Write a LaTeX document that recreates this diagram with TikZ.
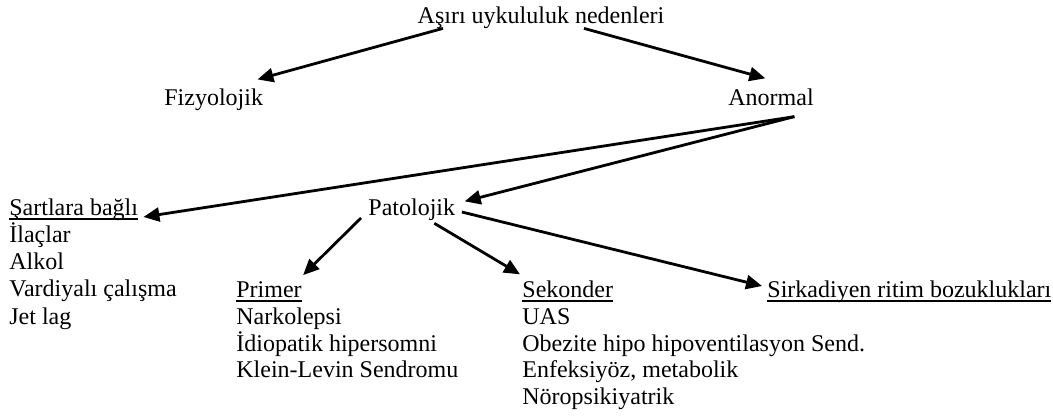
\documentclass[tikz,border=0pt]{standalone}
\usepackage{fontspec}
\setmainfont{Liberation Serif}
\usetikzlibrary{arrows.meta}
\newcommand{\ulin}[1]{\setbox0\hbox{#1}\rlap{\rule[-2pt]{\wd0}{0.8pt}}#1}

\begin{document}
\begin{tikzpicture}[x=0.5pt,y=-0.5pt]

		\tikzset{txt/.style = {inner sep=0pt,anchor=base west,font=\fontsize{12pt}{13pt}\selectfont}}
		\tikzset{edge/.style = {-{Triangle[length=8pt,width=7pt]},line width=1.4pt}}
		\useasboundingbox (0,0) rectangle (1053,416);
		% top levels
		\node[txt,anchor=base] (top) at (541,24) {Aşırı uykululuk nedenleri};
		\node[txt] (fiz) at (164,106) {Fizyolojik};
		\node[txt] (anor) at (728,106) {Anormal};
		\node[txt] (sart) at (9,216) {\ulin{Şartlara bağlı}};
		\node[txt] (pato) at (368,216) {Patolojik};
		% lists
		\foreach \t [count=\i] in {İlaçlar,Alkol,Vardiyalı çalışma,Jet lag}
			\node[txt] (sart\i) at (9,{216+27*\i}) {\t};
		\node[txt] (prim) at (236,298) {\ulin{Primer}};
		\foreach \t [count=\i] in {Narkolepsi,İdiopatik hipersomni,Klein-Levin Sendromu}
			\node[txt] (prim\i) at (236,{298+26.5*\i}) {\t};
		\node[txt] (sek) at (522,298) {\ulin{Sekonder}};
		\foreach \t [count=\i] in {UAS,Obezite hipo hipoventilasyon Send.,{Enfeksiyöz, metabolik},Nöropsikiyatrik}
			\node[txt] (sek\i) at (522,{298+26.5*\i}) {\t};
		\node[txt] (sirk) at (767,298) {\ulin{Sirkadiyen ritim bozuklukları}};
		%edges
		\draw[edge] ([xshift=-49pt,yshift=0.6pt]top.south) to ([xshift=-3pt,yshift=4.75pt]fiz.north east);
		\draw[edge] ([xshift=21.5pt,yshift=0.6pt]top.south) to ([xshift=-2.85pt,yshift=5.3pt]anor.north);
		
		\draw[edge] ([xshift=11.65pt,yshift=-5pt]anor.south) to ([xshift=2.5pt,yshift=-0.5pt]sart.base east);
		\draw[edge] ([xshift=11.65pt,yshift=-5pt]anor.south) to ([xshift=4.6pt,yshift=-1.2pt]pato.north east);
		
		\draw[edge] ([xshift=-3.5pt,yshift=-1pt]pato.base west) to ([xshift=0.5pt,yshift=3.3pt]prim.north east);
		\draw[edge] ([xshift=11.3pt,yshift=-0.9pt]pato.south) to ([xshift=-1pt,yshift=3.3pt]sek.north west);
		\draw[edge] ([xshift=3.2pt,yshift=2pt]pato.base east) to ([xshift=-2.5pt,yshift=6pt]sirk.base west);
\end{tikzpicture}
\end{document}
